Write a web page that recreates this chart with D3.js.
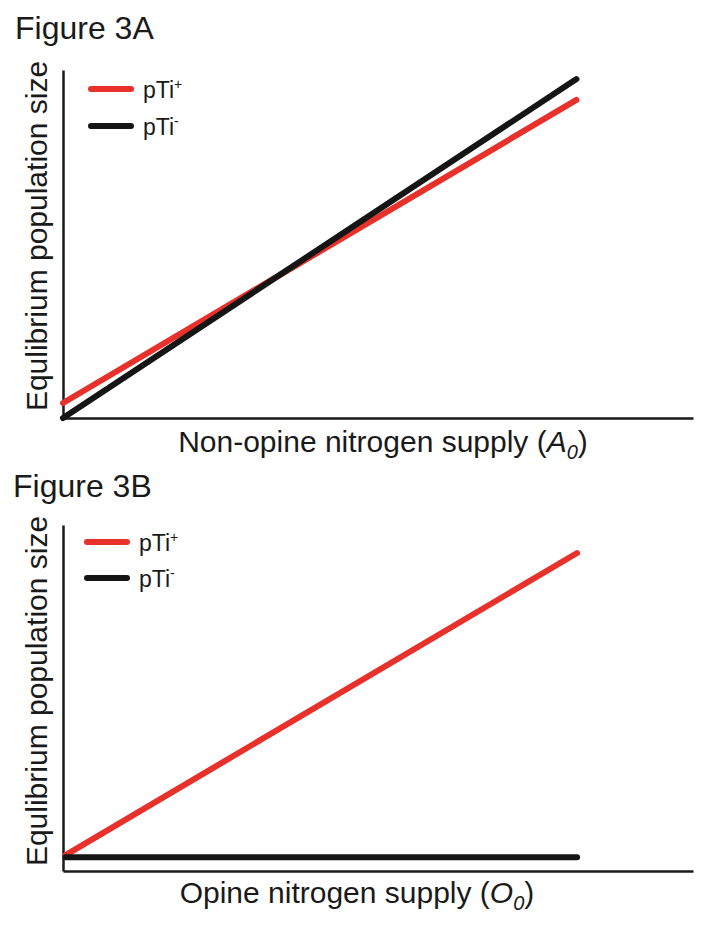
<!DOCTYPE html>
<html>
<head>
<meta charset="utf-8">
<script src="https://cdn.jsdelivr.net/npm/d3@7"></script>
<style>
  html, body { margin: 0; padding: 0; background: #fff; }
  svg { display: block; }
  text { font-family: "Liberation Sans", Arial, sans-serif; fill: #1a1a1a; }
</style>
</head>
<body>
<svg id="chart" width="702" height="945"></svg>
<script>
// ---- Data (arbitrary units) ----
const seriesNames = ["pTi+", "pTi-"];
const seriesColors = ["#e8312a", "#151515"];

// Panel A: non-opine nitrogen supply
const xA = [0, 81.5];
const aPlus = [4.3, 91.4];
const aMinus = [0, 97.4];

// Panel B: opine nitrogen supply
const xB = [0.4, 81.6];
const bPlus = [4.6, 91.9];
const bMinus = [4.0, 4.0];

const panels = [
  { title: "Figure 3A", xLabel: "Non-opine nitrogen supply (", sym: "A", x: xA, series: [aPlus, aMinus],
    top: 70, bottom: 418, titleX: 15, titleY: 39, xLabelX: 383, xLabelY: 452, yLabelC: 236, legX: 91, legY: [89, 126] },
  { title: "Figure 3B", xLabel: "Opine nitrogen supply (", sym: "O", x: xB, series: [bPlus, bMinus],
    top: 525, bottom: 871, titleX: 13, titleY: 497, xLabelX: 357, xLabelY: 903, yLabelC: 691, legX: 87, legY: [542, 578] }
];

const svg = d3.select("#chart");
const left = 63, right = 693;

panels.forEach((p) => {
  const x = d3.scaleLinear().domain([0, 100]).range([left, right]);
  const y = d3.scaleLinear().domain([0, 100]).range([p.bottom, p.top]);
  const g = svg.append("g");

  // title
  g.append("text").attr("x", p.titleX).attr("y", p.titleY)
    .style("font-size", "32px").text(p.title);

  // axes (plain lines, no ticks)
  const yAxis = d3.axisLeft(y).tickValues([]).tickSizeOuter(0);
  const xAxis = d3.axisBottom(x).tickValues([]).tickSizeOuter(0);
  g.append("g").attr("transform", `translate(${left},0)`).call(yAxis)
    .select(".domain").attr("stroke", "#1a1a1a").attr("stroke-width", 2.5);
  g.append("g").attr("transform", `translate(0,${p.bottom})`).call(xAxis)
    .select(".domain").attr("stroke", "#1a1a1a").attr("stroke-width", 2.5);

  // y label
  g.append("text")
    .attr("transform", `translate(47,${p.yLabelC}) rotate(-90)`)
    .attr("text-anchor", "middle").style("font-size", "30px")
    .text("Equlibrium population size");

  // x label
  const xl = g.append("text").attr("x", p.xLabelX).attr("y", p.xLabelY)
    .attr("text-anchor", "middle").style("font-size", "30px");
  xl.append("tspan").text(p.xLabel);
  xl.append("tspan").style("font-style", "italic").text(p.sym);
  xl.append("tspan").style("font-style", "italic").style("font-size", "20px").attr("dy", 7).text("0");
  xl.append("tspan").attr("dy", -7).text(")");

  // lines
  const line = d3.line().x(d => x(d[0])).y(d => y(d[1]));
  p.series.forEach((vals, si) => {
    const pts = p.x.map((xv, i) => [xv, vals[i]]);
    g.append("path").datum(pts).attr("d", line)
      .attr("fill", "none").attr("stroke", seriesColors[si])
      .attr("stroke-width", 6).attr("stroke-linecap", "round");
  });

  // legend
  seriesNames.forEach((name, si) => {
    const ly = p.legY[si];
    const lx0 = p.legX, lx1 = lx0 + 40;
    g.append("line").attr("x1", lx0).attr("x2", lx1).attr("y1", ly).attr("y2", ly)
      .attr("stroke", seriesColors[si]).attr("stroke-width", 6).attr("stroke-linecap", "round");
    const t = g.append("text").attr("x", lx1 + 12).attr("y", ly + 9).style("font-size", "23px");
    t.append("tspan").text("pTi");
    t.append("tspan").attr("dy", -9).style("font-size", "14px").text(si === 0 ? "+" : "-");
  });
});
</script>
</body>
</html>
